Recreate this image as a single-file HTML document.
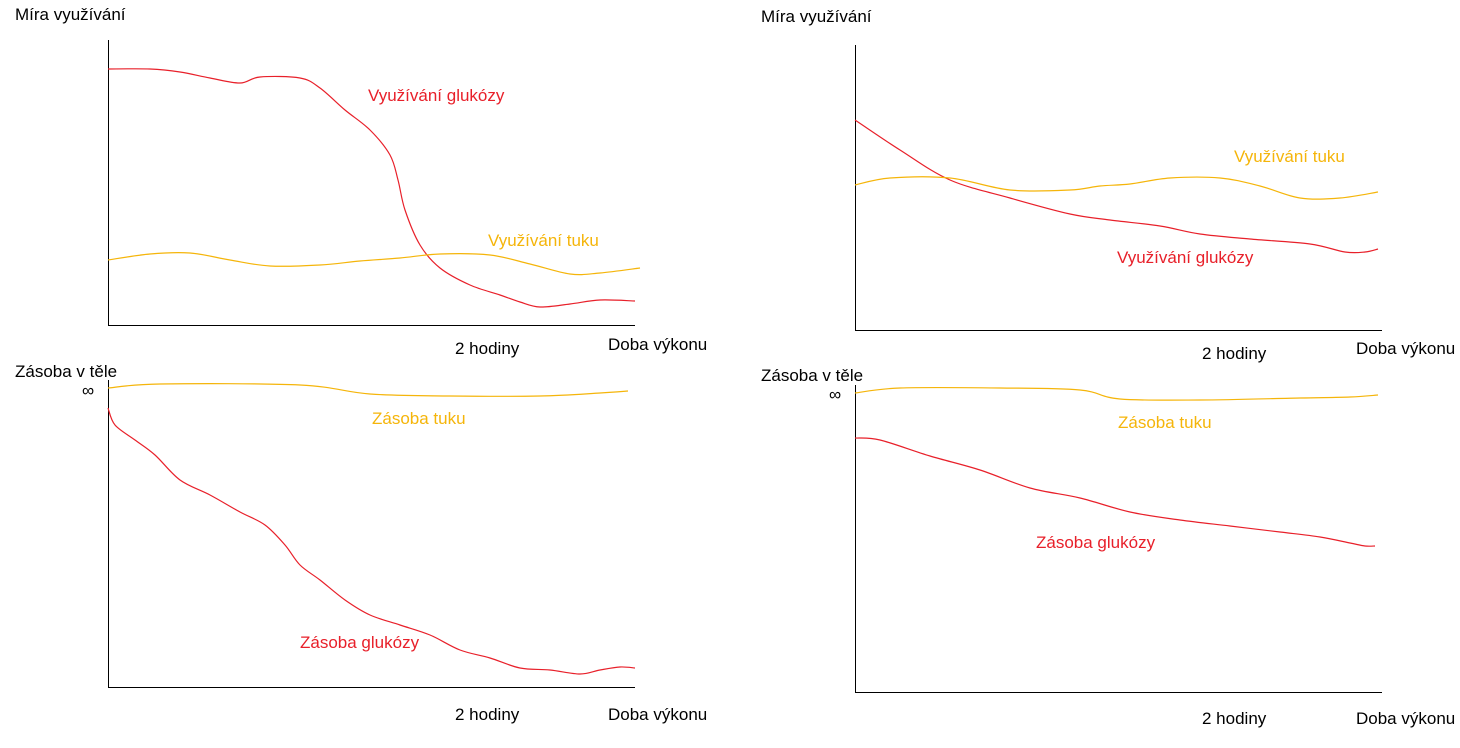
<!DOCTYPE html>
<html><head><meta charset="utf-8">
<style>
body{margin:0;background:#fff;width:1460px;height:743px;overflow:hidden}
svg text{font-family:"Liberation Sans",sans-serif;font-size:17px}
</style></head>
<body>
<svg id="c" width="1460" height="743" xmlns="http://www.w3.org/2000/svg"></svg>
<script>
// Values are in chart units: x = time offset from origin, y = level above baseline
const tlGlucoseX=[0,42,72,102,132,152,192,212,237,262,282,290,297,312,332,362,392,412,432,462,492,527];
const tlGlucoseY=[256,256,253,247,242,248,247,237,215,195,170,145,115,80,57,40,30,23,18,21,25,24];
const tlFatX=[0,42,82,122,162,212,252,292,332,382,422,462,492,532];
const tlFatY=[65,71,72,65,59,60,64,67,71,70,61,51,52,57];
const blFatX=[0,52,192,262,342,432,492,520];
const blFatY=[299,303,302,293,291,291,294,296];
const blGlucoseX=[0,7,27,47,72,102,132,157,177,192,212,237,262,292,322,352,382,412,442,472,492,512,527];
const blGlucoseY=[279,262,247,232,207,192,175,162,142,122,107,87,72,62,52,37,29,19,17,13,17,20,19];
const trGlucoseX=[0,45,95,155,215,255,305,345,395,455,490,510,523];
const trGlucoseY=[210,180,150,132,116,110,104,96,91,86,78,78,81];
const trFatX=[0,35,95,155,215,245,275,315,365,405,445,485,523];
const trFatY=[145,152,152,140,140,144,146,152,152,144,132,132,138];
const brFatX=[0,45,145,225,265,345,445,495,523];
const brFatY=[299,304,304,302,293,292,294,295,297];
const brGlucoseX=[0,25,75,125,175,225,275,325,375,425,465,495,510,520];
const brGlucoseY=[254,252,236,222,204,194,180,172,166,160,155,149,146,146];

const svg=document.getElementById('c');
const NS='http://www.w3.org/2000/svg';
const RED='#e8202a', YEL='#f5b50a';
function mk(tag,attrs){const e=document.createElementNS(NS,tag);for(const k in attrs)e.setAttribute(k,attrs[k]);svg.appendChild(e);return e;}
function txt(x,y,s,fill,name){const t=mk('text',{x:x,y:y,fill:fill});t.textContent=s;


return t;}
function path(xs,ys,sx,sy,color,name){
  const pts=xs.map((v,i)=>[sx(v),sy(ys[i])]);
  let d='M'+pts[0][0]+','+pts[0][1];
  for(let i=1;i<pts.length;i++){
    const p0=pts[Math.max(0,i-2)],p1=pts[i-1],p2=pts[i],p3=pts[Math.min(pts.length-1,i+1)];
    const c1x=p1[0]+(p2[0]-p0[0])/6,c1y=p1[1]+(p2[1]-p0[1])/6;
    const c2x=p2[0]-(p3[0]-p1[0])/6,c2y=p2[1]-(p3[1]-p1[1])/6;
    d+=' C'+c1x+','+c1y+' '+c2x+','+c2y+' '+p2[0]+','+p2[1];
  }
  const p=mk('path',{d:d,fill:'none',stroke:color,'stroke-width':1.2});
  
  
}
function panel(ox,oy,top,right,id){
  const sx=v=>ox+v, sy=v=>oy-v;
  const a=mk('path',{d:`M${ox+0.5},${top} L${ox+0.5},${oy+0.5} L${right},${oy+0.5}`,fill:'none',stroke:'#000','stroke-width':1});
  
  
  return {sx,sy};
}
let p;
p=panel(108,325,40,635,'top-left');
txt(15,20,'Míra využívání','#000','y-axis-title');
txt(455,354,'2 hodiny','#000','x-tick-label');
txt(608,350,'Doba výkonu','#000','x-axis-title');
path(tlGlucoseX,tlGlucoseY,p.sx,p.sy,RED,'glucose-usage-line');
path(tlFatX,tlFatY,p.sx,p.sy,YEL,'fat-usage-line');
txt(368,101,'Využívání glukózy',RED,'glucose-usage-label');
txt(488,246,'Využívání tuku',YEL,'fat-usage-label');

p=panel(108,687,380,635,'bottom-left');
txt(15,377,'Zásoba v těle','#000','y-axis-title');
txt(82,396,'∞','#000','infinity-label');
txt(455,720,'2 hodiny','#000','x-tick-label');
txt(608,720,'Doba výkonu','#000','x-axis-title');
path(blFatX,blFatY,p.sx,p.sy,YEL,'fat-store-line');
path(blGlucoseX,blGlucoseY,p.sx,p.sy,RED,'glucose-store-line');
txt(372,424,'Zásoba tuku',YEL,'fat-store-label');
txt(300,648,'Zásoba glukózy',RED,'glucose-store-label');

p=panel(855,330,45,1382,'top-right');
txt(761,22,'Míra využívání','#000','y-axis-title');
txt(1202,359,'2 hodiny','#000','x-tick-label');
txt(1356,354,'Doba výkonu','#000','x-axis-title');
path(trGlucoseX,trGlucoseY,p.sx,p.sy,RED,'glucose-usage-line');
path(trFatX,trFatY,p.sx,p.sy,YEL,'fat-usage-line');
txt(1234,162,'Využívání tuku',YEL,'fat-usage-label');
txt(1117,263,'Využívání glukózy',RED,'glucose-usage-label');

p=panel(855,692,385,1382,'bottom-right');
txt(761,381,'Zásoba v těle','#000','y-axis-title');
txt(829,400,'∞','#000','infinity-label');
txt(1202,724,'2 hodiny','#000','x-tick-label');
txt(1356,724,'Doba výkonu','#000','x-axis-title');
path(brFatX,brFatY,p.sx,p.sy,YEL,'fat-store-line');
path(brGlucoseX,brGlucoseY,p.sx,p.sy,RED,'glucose-store-line');
txt(1118,428,'Zásoba tuku',YEL,'fat-store-label');
txt(1036,548,'Zásoba glukózy',RED,'glucose-store-label');
</script>
</body></html>
